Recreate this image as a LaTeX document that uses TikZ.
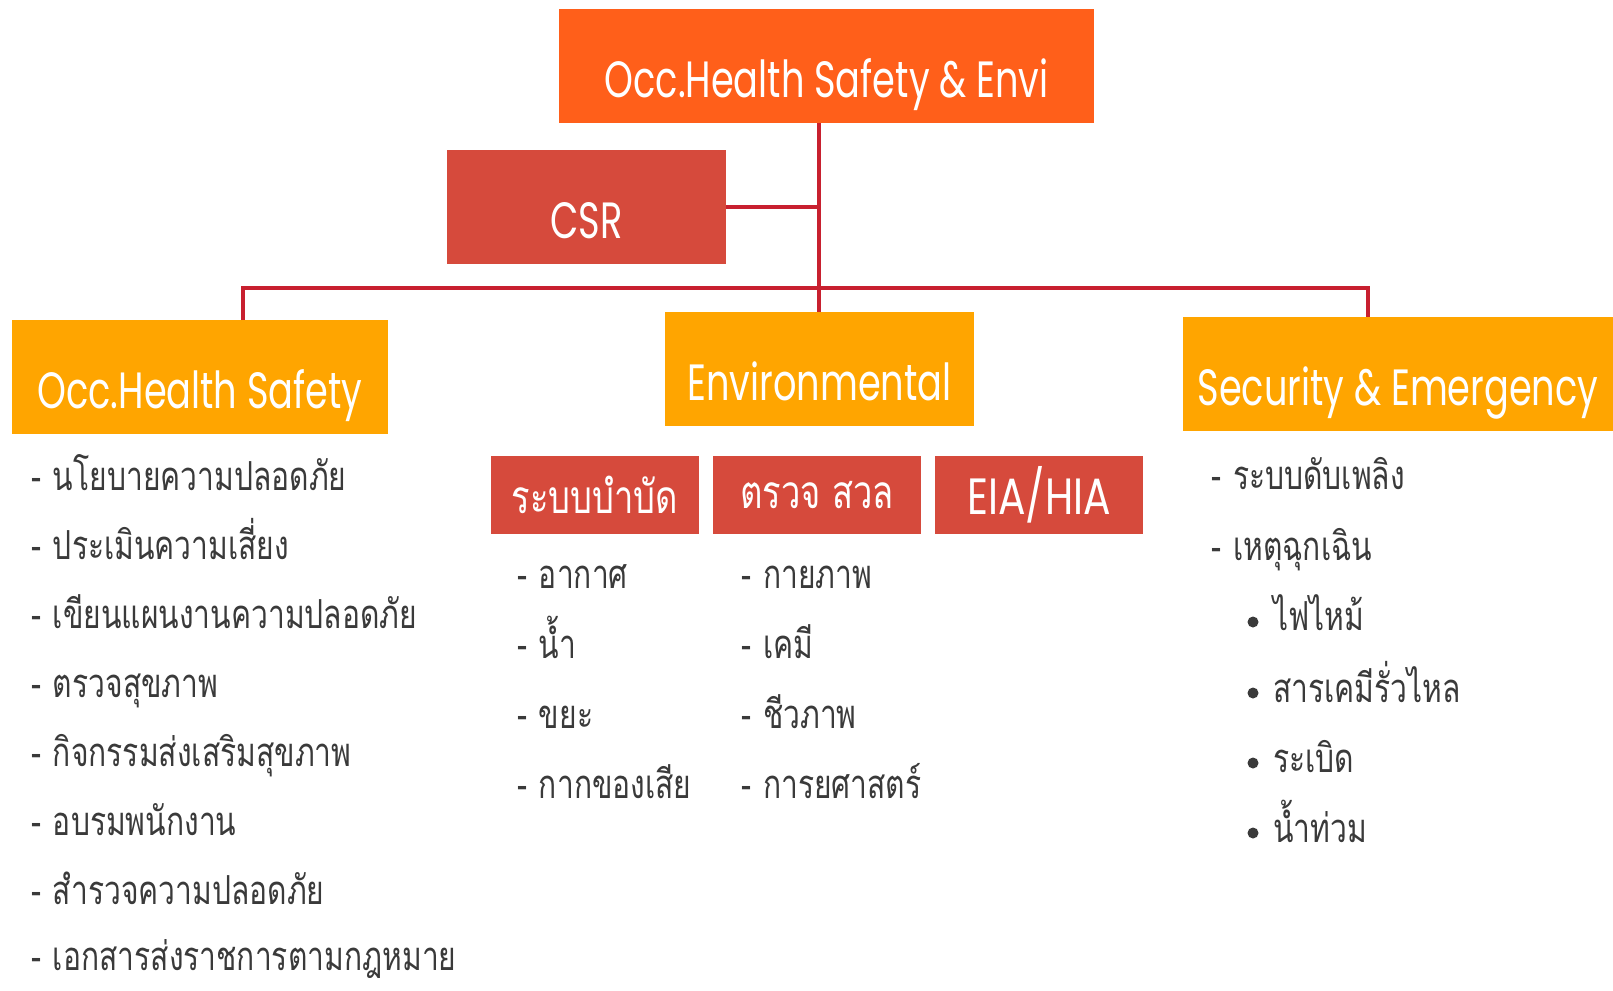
\documentclass[tikz,border=0pt]{standalone}
\usepackage{fontspec}
\newfontfamily\thaifont[Script=Thai,FakeStretch=0.75]{Loma}
\newfontfamily\boxfont[FakeStretch=0.72]{Poppins}
\newfontfamily\eiafont[FakeStretch=0.8]{Poppins}
\definecolor{linkred}{HTML}{C8202F}
\definecolor{toporange}{HTML}{FF5F1A}
\definecolor{boxred}{HTML}{D64A3C}
\definecolor{boxorange}{HTML}{FFA500}
\definecolor{itemgray}{HTML}{3A3A3A}
\usetikzlibrary{positioning}

\begin{document}
\begin{tikzpicture}
[x=1pt,y=-1pt,%
  every node/.style={inner sep=0pt,outer sep=0pt},%
  link/.style={draw=linkred,line width=3.3pt},%
  headbox/.style={anchor=north west,text=white,minimum height=114pt,%
    font=\boxfont\fontsize{51}{51}\selectfont,text height=62pt,text depth=0pt},%
  subbox/.style={anchor=north west,fill=boxred,text=white,minimum width=208pt,%
    minimum height=78pt,font=\thaifont\fontsize{46}{46}\selectfont},%
  item/.style={anchor=base west,text=itemgray,font=\thaifont\fontsize{40}{40}\selectfont},%
  dot/.style={circle,fill=itemgray,minimum size=11pt}]
\useasboundingbox (0,0) rectangle (1613,990);
% boxes
\node[headbox,fill=toporange,minimum width=535pt] (hse) at (559,9) {Occ.Health Safety \& Envi};
\node[headbox,fill=boxred,minimum width=279pt] (csr) at (447,150) {CSR};
\node[headbox,fill=boxorange,minimum width=376pt] (ohs) at (12,320) {Occ.Health Safety};
\node[headbox,fill=boxorange,minimum width=309pt] (env) at (665,312) {Environmental};
\node[headbox,fill=boxorange,minimum width=430pt] (sec) at (1183,317) {Security \& Emergency};
\node[subbox] (treat) at (491,456) {ระบบบำบัด};
\node[subbox] (check) at (713,456) {ตรวจ สวล};
\node[subbox,font=\eiafont\fontsize{51}{51}\selectfont,text height=38pt,text depth=0pt] (eia) at (935,456) {EIA/HIA};
% connectors
\coordinate (trunk) at (819,288);
\coordinate (jl) at (243,288);
\coordinate (jr) at (1368,288);
\draw[link] (hse.south -| trunk) -- (trunk) -- (env.north -| trunk);
\draw[link] (csr.east) -- (csr.east -| trunk);
\draw[link] (ohs.north -| jl) -- (jl) -- (jr) -- (sec.north -| jr);
% occ. health safety
\node[item] (ohs1) at (31,490) {-\hspace{12pt}นโยบายความปลอดภัย};
\node[item] (ohs2) at (31,559) {-\hspace{12pt}ประเมินความเสี่ยง};
\node[item] (ohs3) at (31,628) {-\hspace{12pt}เขียนแผนงานความปลอดภัย};
\node[item] (ohs4) at (31,697) {-\hspace{12pt}ตรวจสุขภาพ};
\node[item] (ohs5) at (31,766) {-\hspace{12pt}กิจกรรมส่งเสริมสุขภาพ};
\node[item] (ohs6) at (31,835) {-\hspace{12pt}อบรมพนักงาน};
\node[item] (ohs7) at (31,904) {-\hspace{12pt}สำรวจความปลอดภัย};
\node[item] (ohs8) at (31,970) {-\hspace{12pt}เอกสารส่งราชการตามกฎหมาย};
% environmental
\node[item] (treat1) at (517,588) {-\hspace{12pt}อากาศ};
\node[item] (treat2) at (517,658) {-\hspace{12pt}น้ำ};
\node[item] (treat3) at (517,728) {-\hspace{12pt}ขยะ};
\node[item] (treat4) at (517,798) {-\hspace{12pt}กากของเสีย};
\node[item] (check1) at (741,588) {-\hspace{12pt}กายภาพ};
\node[item] (check2) at (741,658) {-\hspace{12pt}เคมี};
\node[item] (check3) at (741,728) {-\hspace{12pt}ชีวภาพ};
\node[item] (check4) at (741,798) {-\hspace{12pt}การยศาสตร์};
% security & emergency
\node[item] (sec1) at (1211,489) {-\hspace{12pt}ระบบดับเพลิง};
\node[item] (sec2) at (1211,560) {-\hspace{12pt}เหตุฉุกเฉิน};
\node[dot] (dot1) at (1253,622) {};
\node[dot] (dot2) at (1253,693) {};
\node[dot] (dot3) at (1253,763) {};
\node[dot] (dot4) at (1253,833) {};
\node[item] (fire) at (1273,630) {ไฟไหม้};
\node[item] (leak) at (1273,702) {สารเคมีรั่วไหล};
\node[item] (blast) at (1273,772) {ระเบิด};
\node[item] (flood) at (1273,842) {น้ำท่วม};
\end{tikzpicture}
\end{document}
